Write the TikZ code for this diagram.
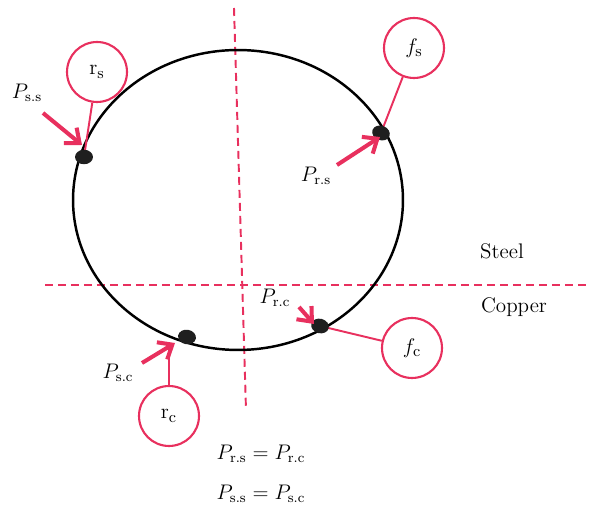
\documentclass[tikz,border=0pt]{standalone}
\usetikzlibrary{arrows.meta,shapes.geometric}
\definecolor{pk}{RGB}{232,48,94}
\begin{document}
\begin{tikzpicture}[x=0.02cm,y=-0.02cm,
  bubble/.style={circle,draw=pk,line width=1.2pt,minimum size=1.2cm,inner sep=0pt,font=\fontsize{12.5}{14}\selectfont},
  blob/.style={ellipse,fill=black!88,minimum width=0.36cm,minimum height=0.29cm,inner sep=0pt},
  pline/.style={pk,line width=1.1pt},
  parrow/.style={pk,line width=2.3pt,-{Straight Barb[length=2.4mm,width=4mm]}},
  divider/.style={pk,line width=1.1pt,dash pattern=on 1.6mm off 1mm},
  lbl/.style={font=\fontsize{12}{14}\selectfont,inner sep=0pt}]
\useasboundingbox (0,0) rectangle (592,509);
% dividers
\coordinate (vt) at (234,8);
\coordinate (vb) at (246,410);
\coordinate (hl) at (45,285);
\coordinate (hr) at (590,285);
\draw[divider] (vt) -- (vb);
\draw[divider] (hl) -- (hr);
% ring
\coordinate (ctr) at (238,200);
\draw[line width=1.4pt] (ctr) ellipse [x radius=3.3cm,y radius=3cm];
% bubbles
\node[bubble] (rs) at (97,72) {$\mathrm{r_s}$};
\node[bubble] (fs) at (414,48) {$f_{\mathrm{s}}$};
\node[bubble] (fc) at (412,348) {$f_{\mathrm{c}}$};
\node[bubble] (rc) at (169,416) {$\mathrm{r_c}$};
% contact points
\coordinate (c1) at (84,157);
\coordinate (c2) at (381,133);
\coordinate (c3) at (320,326);
\coordinate (c4) at (187,337);
\draw[pline] (rs) -- (c1);
\draw[pline] (fs) -- (c2);
\draw[pline] (fc) -- (c3);
\draw[pline] (rc.north) -- (rc.north |- 0,343);
\node[blob] (d1) at (c1) {};
\node[blob,rotate=-20] (d2) at (c2) {};
\node[blob,rotate=-15] (d3) at (c3) {};
\node[blob,rotate=-10] (d4) at (c4) {};
% force arrows
\coordinate (a1) at (43,113);
\coordinate (a2) at (337,165);
\coordinate (a3) at (299,307);
\coordinate (a4) at (142,363);
\draw[parrow] (a1) -- (82,145);
\draw[parrow] (a2) -- (380,137);
\draw[parrow] (a3) -- (314,324);
\draw[parrow] (a4) -- (175,343);
% labels
\node[lbl] (lss) at (27,93) {$P_{\mathrm{s.s}}$};
\node[lbl] (lrs) at (316,176) {$P_{\mathrm{r.s}}$};
\node[lbl] (lrc) at (275,298) {$P_{\mathrm{r.c}}$};
\node[lbl] (lsc) at (118,373) {$P_{\mathrm{s.c}}$};
\node[lbl] (steel) at (502,251) {Steel};
\node[lbl] (copper) at (514,307) {Copper};
\node[lbl] (eq1) at (261,454) {$P_{\mathrm{r.s}} = P_{\mathrm{r.c}}$};
\node[lbl] (eq2) at (261,494) {$P_{\mathrm{s.s}} = P_{\mathrm{s.c}}$};
\end{tikzpicture}
\end{document}
